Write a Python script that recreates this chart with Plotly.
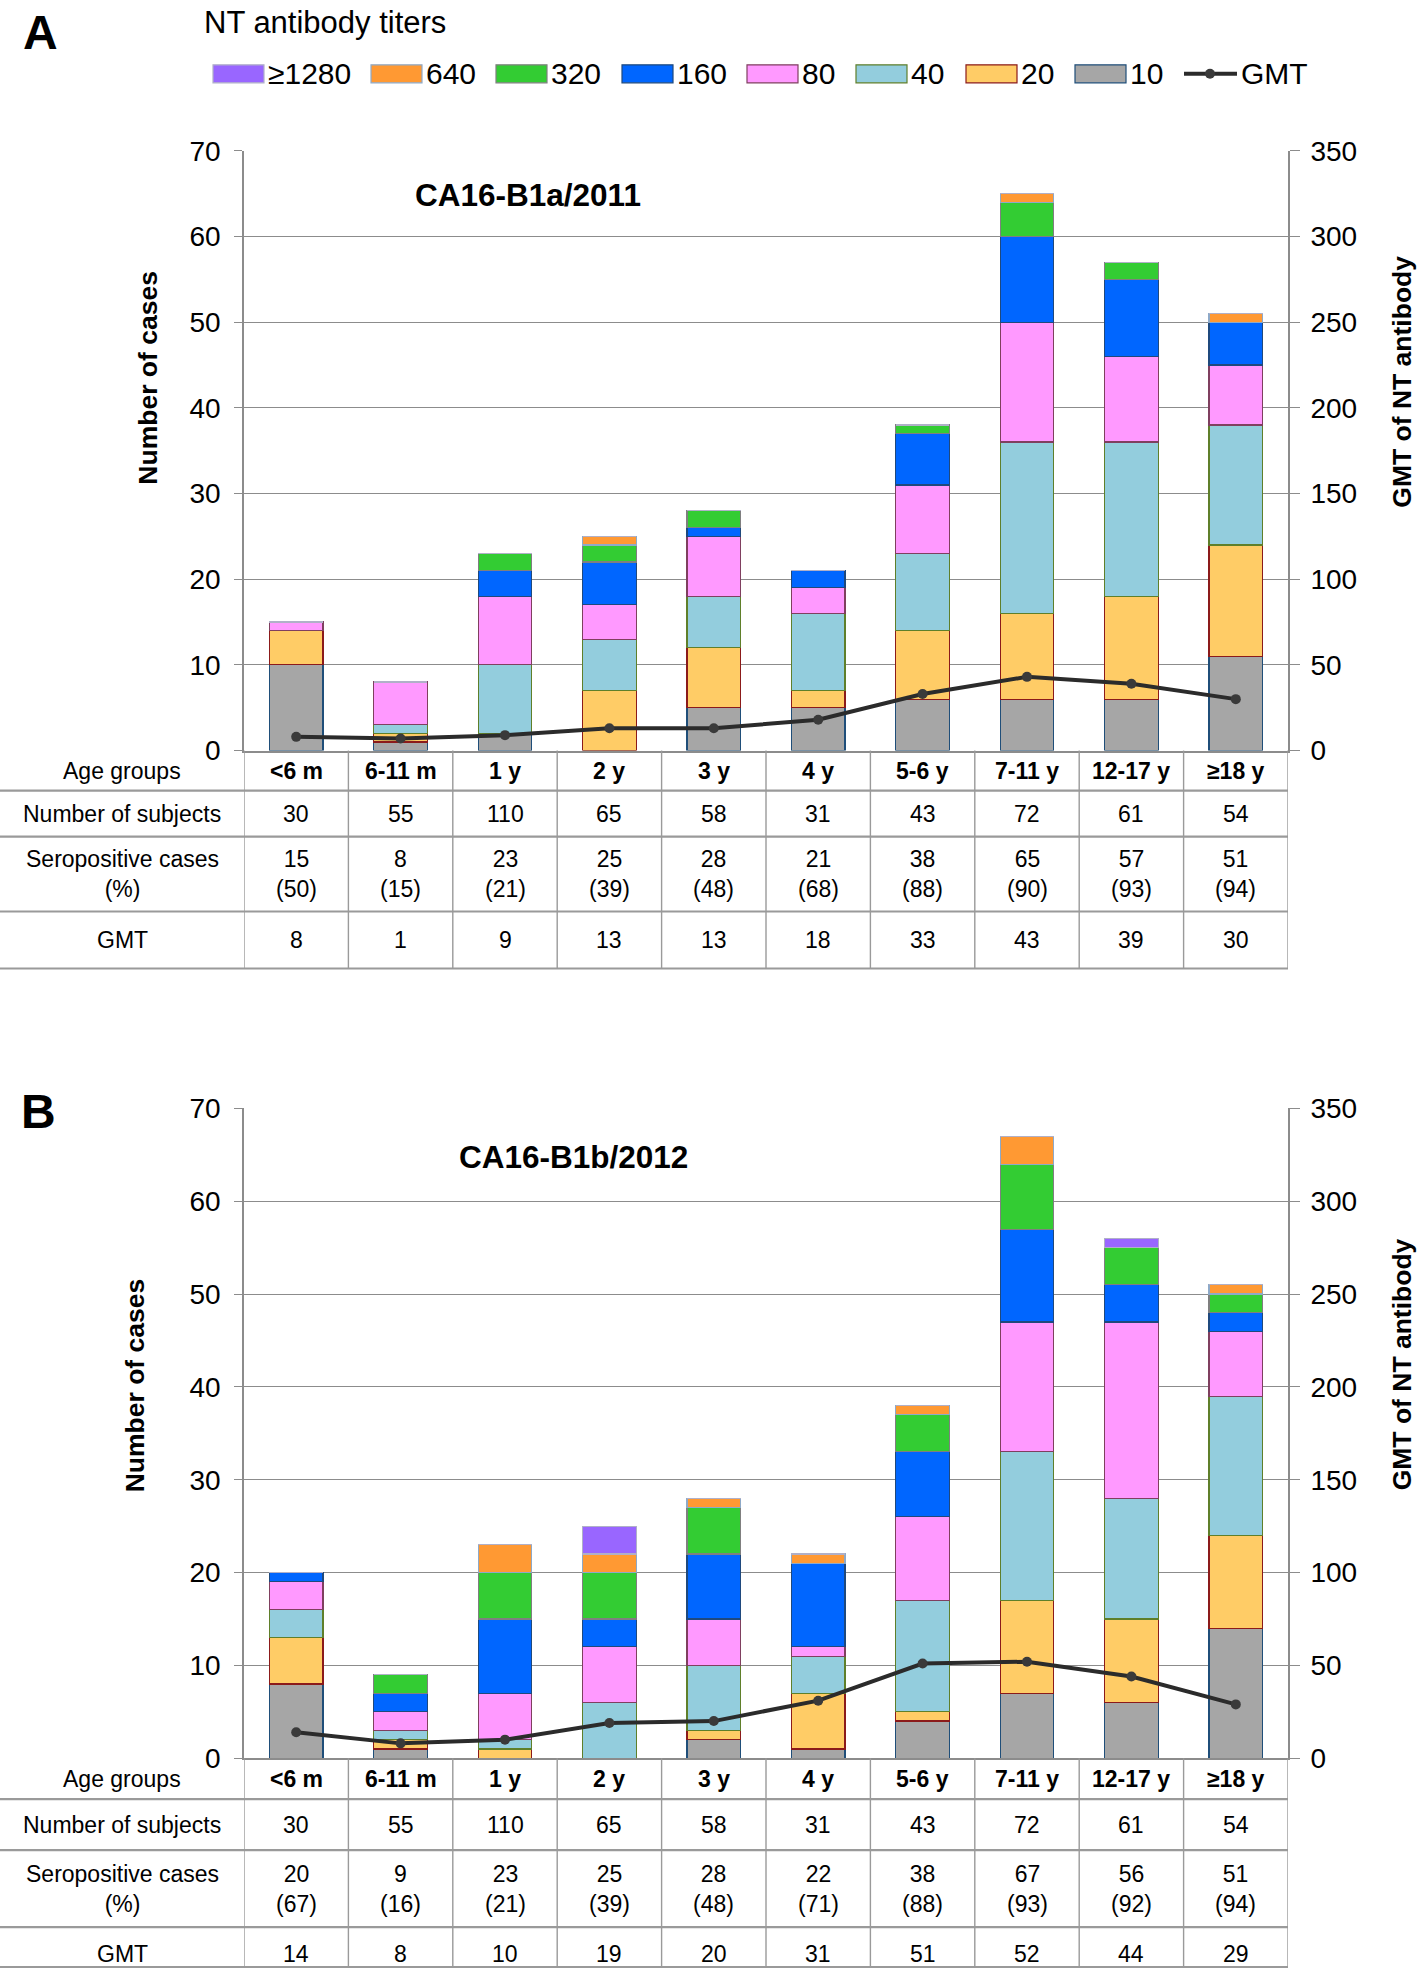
import plotly.graph_objects as go

W, H = 1418, 1984

age_groups = ["<6 m", "6-11 m", "1 y", "2 y", "3 y", "4 y", "5-6 y", "7-11 y", "12-17 y", "≥18 y"]
titers = ["10", "20", "40", "80", "160", "320", "640", "≥1280"]

# panel A (CA16-B1a/2011): cases per titer level, by age group
a_10 = [10, 1, 2, 0, 5, 5, 6, 6, 6, 11]
a_20 = [4, 1, 0, 7, 7, 2, 8, 10, 12, 13]
a_40 = [0, 1, 8, 6, 6, 9, 9, 20, 18, 14]
a_80 = [1, 5, 8, 4, 7, 3, 8, 14, 10, 7]
a_160 = [0, 0, 3, 5, 1, 2, 6, 10, 9, 5]
a_320 = [0, 0, 2, 2, 2, 0, 1, 4, 2, 0]
a_640 = [0, 0, 0, 1, 0, 0, 0, 1, 0, 1]
a_1280 = [0, 0, 0, 0, 0, 0, 0, 0, 0, 0]
a_gmt_line = [8, 7, 9, 13, 13, 18, 33, 43, 39, 30]

# panel B (CA16-B1b/2012)
b_10 = [8, 1, 0, 0, 2, 1, 4, 7, 6, 14]
b_20 = [5, 1, 1, 0, 1, 6, 1, 10, 9, 10]
b_40 = [3, 1, 1, 6, 7, 4, 12, 16, 13, 15]
b_80 = [3, 2, 5, 6, 5, 1, 9, 14, 19, 7]
b_160 = [1, 2, 8, 3, 7, 9, 7, 10, 4, 2]
b_320 = [0, 2, 5, 5, 5, 0, 4, 7, 4, 2]
b_640 = [0, 0, 3, 2, 1, 1, 1, 3, 0, 1]
b_1280 = [0, 0, 0, 3, 0, 0, 0, 0, 1, 0]
b_gmt_line = [14, 8, 10, 19, 20, 31, 51, 52, 44, 29]

# table rows
subjects = [30, 55, 110, 65, 58, 31, 43, 72, 61, 54]
a_seropos = [15, 8, 23, 25, 28, 21, 38, 65, 57, 51]
a_pct = [50, 15, 21, 39, 48, 68, 88, 90, 93, 94]
a_gmt = [8, 1, 9, 13, 13, 18, 33, 43, 39, 30]
b_seropos = [20, 9, 23, 25, 28, 22, 38, 67, 56, 51]
b_pct = [67, 16, 21, 39, 48, 71, 88, 93, 92, 94]
b_gmt = [14, 8, 10, 19, 20, 31, 51, 52, 44, 29]

fills = ["#A6A6A6", "#FFCC66", "#93CDDD", "#FF99FF", "#0066FF", "#33CC33", "#FF9933", "#9966FF"]
edges = ["#1F4E79", "#8B1A1A", "#5F7F2A", "#7F3F5F", "#1F497D", "#7F7F7F", "#8EA9C8", "#B0B0C8"]

GRID = "#8C8C8C"
FONT = "Liberation Sans, Arial, sans-serif"

# the photographed page comes out slightly squeezed vertically; undo that
OFF, SCL = 14.2, 0.9847


def px(x):
    return x / W


def py(y):
    v = 1 - ((y - OFF) / SCL) / H
    return min(1.0, max(0.0005, v))


def note(text, x, y, size, **kw):
    # text placed in page pixels, centred unless told otherwise
    d = dict(text=text, x=px(x), y=py(y), xref="paper", yref="paper", showarrow=False,
             xanchor="center", yanchor="middle", font=dict(size=size, family=FONT, color="#000"))
    d.update(kw)
    return d


xdom = [px(244), px(1288)]
panels = [
    dict(x="x", y="y", y2="y2", top=150, zero=750,
         series=[a_10, a_20, a_40, a_80, a_160, a_320, a_640, a_1280], gmt=a_gmt_line,
         rows=[750, 790, 836, 911, 968], seropos=a_seropos, pct=a_pct, gtab=a_gmt,
         name="CA16-B1a/2011", name_xy=(528, 194), letter="A", letter_xy=(40, 32),
         ytitle_x=148, ytitle_y=377, y2title_y=381),
    dict(x="x2", y="y3", y2="y4", top=1108, zero=1758,
         series=[b_10, b_20, b_40, b_80, b_160, b_320, b_640, b_1280], gmt=b_gmt_line,
         rows=[1758, 1799, 1850, 1927, 1981], seropos=b_seropos, pct=b_pct, gtab=b_gmt,
         name="CA16-B1b/2012", name_xy=(573, 1157), letter="B", letter_xy=(38, 1111),
         ytitle_x=135, ytitle_y=1385, y2title_y=1364),
]

fig = go.Figure()
ann = []
shapes = []

for p in panels:
    for i, t in enumerate(titers):
        fig.add_trace(go.Bar(x=age_groups, y=p["series"][i], name=t, xaxis=p["x"], yaxis=p["y"],
                             marker=dict(color=fills[i], line=dict(color=edges[i], width=1.2)),
                             showlegend=False))
    fig.add_trace(go.Scatter(x=age_groups, y=p["gmt"], name="GMT", xaxis=p["x"], yaxis=p["y2"],
                             mode="lines+markers", line=dict(color="#2B2B2B", width=4),
                             marker=dict(size=10, color="#3A3A3A"), showlegend=False))

    ax = "xaxis" if p["x"] == "x" else "xaxis2"
    ya = "yaxis" if p["y"] == "y" else "yaxis3"
    yb = "yaxis2" if p["y2"] == "y2" else "yaxis4"
    ydom = [py(p["zero"]), py(p["top"])]
    fig.update_layout({
        ax: dict(domain=xdom, anchor=p["y"], type="category", range=[-0.5, 9.5],
                 showline=True, linecolor=GRID, linewidth=1.6, showticklabels=False,
                 ticks="", showgrid=False, zeroline=False),
        ya: dict(domain=ydom, anchor=p["x"], range=[0, 70], dtick=10, showline=True,
                 linecolor=GRID, linewidth=1.6, showgrid=True, gridcolor=GRID, gridwidth=1.4,
                 ticks="outside", ticklen=8, tickcolor=GRID, tickwidth=1.4, zeroline=False,
                 tickfont=dict(size=28, color="#000"), ticklabelstandoff=8),
        yb: dict(overlaying=p["y"], anchor=p["x"], side="right", range=[0, 350], dtick=50,
                 showline=True, linecolor=GRID, linewidth=1.6, showgrid=False, zeroline=False,
                 ticks="outside", ticklen=10, tickcolor=GRID, tickwidth=1.4,
                 tickfont=dict(size=28, color="#000"), ticklabelstandoff=5),
    })

    # strain label, panel letter, axis titles
    ann.append(note("<b>" + p["name"] + "</b>", p["name_xy"][0], p["name_xy"][1], 31.5))
    ann.append(note("<b>" + p["letter"] + "</b>", p["letter_xy"][0], p["letter_xy"][1], 48))
    ann.append(note("<b>Number of cases</b>", p["ytitle_x"], p["ytitle_y"], 26.5, textangle=-90))
    ann.append(note("<b>GMT of NT antibody</b>", 1402, p["y2title_y"], 26.5, textangle=-90))

    # table under the bars
    r = p["rows"]
    mids = [(r[k] + r[k + 1]) / 2 for k in range(4)]
    labels = ["Age groups", "Number of subjects", "Seropositive cases<br>(%)", "GMT"]
    for k, lab in enumerate(labels):
        ann.append(note(lab, 122, mids[k], 23))
    for j, g in enumerate(age_groups):
        cells = ["<b>" + g + "</b>", str(subjects[j]),
                 "%d<br>(%d)" % (p["seropos"][j], p["pct"][j]), str(p["gtab"][j])]
        for k, c in enumerate(cells):
            ann.append(dict(text=c, x=g, y=py(mids[k]), xref=p["x"], yref="paper",
                            xanchor="center", yanchor="middle", showarrow=False,
                            font=dict(size=23, family=FONT, color="#000")))
    for k in range(1, 5):
        shapes.append(dict(type="line", xref="paper", yref="paper", x0=0, x1=xdom[1],
                           y0=py(r[k]), y1=py(r[k]), line=dict(color="#9A9A9A", width=2.2)))
    for j in range(11):
        shapes.append(dict(type="line", xref=p["x"], yref="paper", x0=j - 0.5, x1=j - 0.5,
                           y0=py(r[0]), y1=py(r[4]), line=dict(color="#9A9A9A", width=1.4)))

# legend drawn by hand: title, swatches, labels
ann.append(note("NT antibody titers", 202, 22, 31, xanchor="left"))
leg_order = [7, 6, 5, 4, 3, 2, 1, 0]
leg_x = [213, 371, 496, 622, 747, 856, 966, 1075]
for n, i in enumerate(leg_order):
    x0 = leg_x[n]
    shapes.append(dict(type="rect", xref="paper", yref="paper", x0=px(x0), x1=px(x0 + 51),
                       y0=py(82), y1=py(64), fillcolor=fills[i],
                       line=dict(color=edges[i], width=1.2)))
    ann.append(note(titers[i], x0 + 53, 73, 30, xanchor="left"))
shapes.append(dict(type="line", xref="paper", yref="paper", x0=px(1184), x1=px(1237),
                   y0=py(73), y1=py(73), line=dict(color="#2B2B2B", width=4)))
shapes.append(dict(type="circle", xref="paper", yref="paper", x0=px(1205), x1=px(1215),
                   y0=py(78), y1=py(68), fillcolor="#3A3A3A", line=dict(width=0)))
ann.append(note("GMT", 1239, 73, 30, xanchor="left"))

fig.update_layout(width=W, height=H, margin=dict(l=0, r=0, t=0, b=0),
                  paper_bgcolor="white", plot_bgcolor="white", barmode="stack", bargap=0.485,
                  showlegend=False, font=dict(family=FONT, color="#000"),
                  annotations=ann, shapes=shapes)

pin = ("document.body.style.margin='0';"
       "var g=document.querySelector('.plotly-graph-div');"
       "g.style.position='absolute';g.style.top='0px';g.style.left='0px';")
fig.write_html("out.html", config={"displayModeBar": False}, post_script=pin)
